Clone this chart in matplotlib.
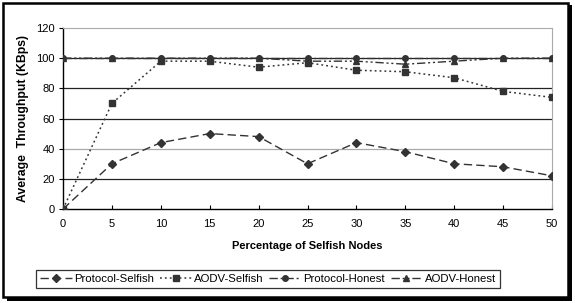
import matplotlib.pyplot as plt
from matplotlib.patches import Rectangle

plt.rcParams['font.family'] = ['Liberation Sans', 'DejaVu Sans']

# data
pct = [0, 5, 10, 15, 20, 25, 30, 35, 40, 45, 50]
protocol_selfish = [0, 30, 44, 50, 48, 30, 44, 38, 30, 28, 22]
aodv_selfish = [0, 70, 98, 98, 94, 97, 92, 91, 87, 78, 74]
protocol_honest = [100, 100, 100, 100, 100, 100, 100, 100, 100, 100, 100]
aodv_honest = [100, 100, 100, 100, 100, 98, 98, 96, 98, 100, 100]
yticks = [0, 20, 40, 60, 80, 100, 120]

fig = plt.figure(figsize=(5.75, 3.03), dpi=100)
ax = fig.add_axes([0.1096, 0.3102, 0.8504, 0.5974])
ax.set_zorder(5)

# outer frame with shadow
fig.patches.append(Rectangle((0.012, 0.008), 0.982, 0.975, transform=fig.transFigure,
                             facecolor='black', edgecolor='none', zorder=0))
fig.patches.append(Rectangle((0.005, 0.02), 0.982, 0.97, transform=fig.transFigure,
                             facecolor='white', edgecolor='black', lw=1.8, zorder=1))

for y in yticks[1:-1]:
    col = '#aaaaaa' if y == 40 else '#222222'
    ax.axhline(y, color=col, lw=0.9, zorder=1)

ax.plot(pct, protocol_selfish, color='#333333', ls=(0, (6, 3)), lw=1.0,
        marker='D', ms=4, label='Protocol-Selfish', zorder=3)
ax.plot(pct, aodv_selfish, color='#333333', ls=(0, (1.2, 2)), lw=1.1,
        marker='s', ms=4, label='AODV-Selfish', zorder=3)
ax.plot(pct, protocol_honest, color='#333333', ls=(0, (6, 2, 1.5, 2)), lw=1.0,
        marker='o', ms=4, label='Protocol-Honest', zorder=4)
ax.plot(pct, aodv_honest, color='#333333', ls=(0, (6, 2, 1.5, 2, 1.5, 2)), lw=1.0,
        marker='^', ms=4, label='AODV-Honest', zorder=4)

ax.set_xlim(0, 50)
ax.set_ylim(0, 120)
ax.set_xticks(pct)
ax.set_yticks(yticks)
ax.tick_params(labelsize=8, width=0.8, colors='black')
ax.tick_params(axis='y', length=3, pad=3)
ax.tick_params(axis='x', direction='in', length=3, pad=7)
for s in ['top', 'right']:
    ax.spines[s].set_color('#aaaaaa')
    ax.spines[s].set_linewidth(0.8)
for s in ['left', 'bottom']:
    ax.spines[s].set_linewidth(1.0)

ax.set_xlabel('Percentage of Selfish Nodes', fontsize=8, fontweight='bold', labelpad=9)
ax.set_ylabel('Average  Throughput (KBps)', fontsize=8.8, fontweight='bold', labelpad=5)

leg = fig.legend(loc='center', bbox_to_anchor=(0.466, 0.08), ncol=4, fontsize=8.2,
                 frameon=True, fancybox=False, edgecolor='black', handlelength=2.8,
                 handletextpad=0.2, columnspacing=0.5, borderpad=0.35)
leg.get_frame().set_linewidth(0.9)
leg.set_zorder(6)

fig.savefig('out.png', dpi=100)
